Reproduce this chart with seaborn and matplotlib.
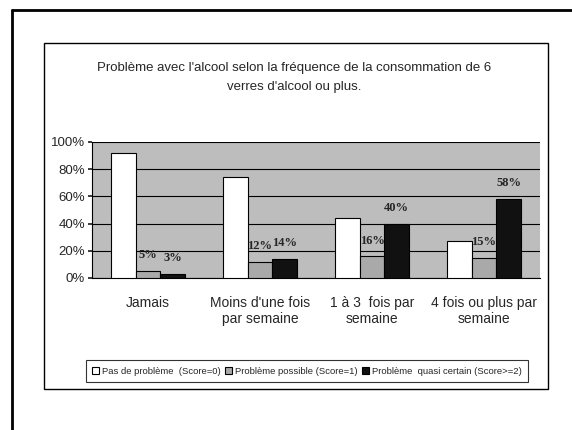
import matplotlib
matplotlib.use("Agg")
import matplotlib.pyplot as plt
import seaborn as sns
import pandas as pd
from matplotlib.patches import Rectangle
from matplotlib.lines import Line2D

categories = ["Jamais", "Moins d'une fois\npar semaine", "1 à 3  fois par\nsemaine", "4 fois ou plus par\nsemaine"]
series = ["Pas de problème  (Score=0)", "Problème possible (Score=1)", "Problème  quasi certain (Score>=2)"]
pas_de_probleme = [92, 74, 44, 27]
probleme_possible = [5, 12, 16, 15]
probleme_certain = [3, 14, 40, 58]
yticks = [0, 20, 40, 60, 80, 100]

rows = []
for vals, s in zip([pas_de_probleme, probleme_possible, probleme_certain], series):
    for c, v in zip(categories, vals):
        rows.append({"cat": c, "serie": s, "val": v})
df = pd.DataFrame(rows)

sns.set_theme(style="white")
plt.rcParams["font.family"] = ["Liberation Sans", "DejaVu Sans"]

fig = plt.figure(figsize=(5.72, 4.30), dpi=100)
fig.patch.set_facecolor("white")

# page frame and chart frame
fig.add_artist(Line2D([12/572, 12/572], [0, 1-10/430], transform=fig.transFigure, color="black", lw=2))
fig.add_artist(Line2D([12/572, 1], [1-10/430, 1-10/430], transform=fig.transFigure, color="black", lw=2))
fig.add_artist(Rectangle((44/572, 1-389/430), (548-44)/572, (389-43)/430, transform=fig.transFigure,
                         fill=False, edgecolor="black", lw=1))

ax = fig.add_axes([92/572, 1-278/430, (540-92)/572, (278-142)/430])
ax.set_facecolor("#bdbdbd")

palette = {series[0]: "white", series[1]: "#a9a9a9", series[2]: "#111111"}
sns.barplot(data=df, x="cat", y="val", hue="serie", hue_order=series, order=categories,
            palette=palette, edgecolor="black", linewidth=0.8, width=0.66, ax=ax, legend=False,
            zorder=3)

for cont, vals in zip(ax.containers[1:], [probleme_possible, probleme_certain]):
    ax.bar_label(cont, labels=[f"{v}%" for v in vals], padding=7,
                 fontsize=9, fontweight="bold", family="Liberation Serif")

ax.set_ylim(0, 100)
ax.set_yticks(yticks)
ax.set_yticklabels([f"{v}%" for v in yticks], fontsize=9.5)
ax.yaxis.grid(True, color="black", lw=0.8, zorder=1)
ax.set_axisbelow(True)
ax.tick_params(axis="y", length=3, direction="out", left=True, pad=2)
ax.tick_params(axis="x", length=0, pad=13, labelsize=10)
ax.set_xlabel("")
ax.set_ylabel("")
for sp in ["top", "right"]:
    ax.spines[sp].set_visible(False)
ax.spines["left"].set_color("black")
ax.spines["bottom"].set_color("black")
ax.spines["left"].set_linewidth(0.8)
ax.spines["bottom"].set_linewidth(0.8)

fig.text(294/572, 1-68/430, "Problème avec l'alcool selon la fréquence de la consommation de 6",
         ha="center", va="center", fontsize=9.5)
fig.text(294/572, 1-87/430, "verres d'alcool ou plus.", ha="center", va="center", fontsize=9.5)

handles = [Rectangle((0, 0), 1, 1, facecolor=palette[s], edgecolor="black", lw=0.8) for s in series]
leg = fig.legend(handles, series, loc="center", bbox_to_anchor=(307/572, 1-371/430), ncol=3,
                 fontsize=6.8, frameon=True, handlelength=0.7, handleheight=0.7, handletextpad=0.3,
                 columnspacing=0.5, borderpad=0.7, fancybox=False, edgecolor="black")
leg.get_frame().set_linewidth(0.8)

fig.savefig("out.png", dpi=100)
